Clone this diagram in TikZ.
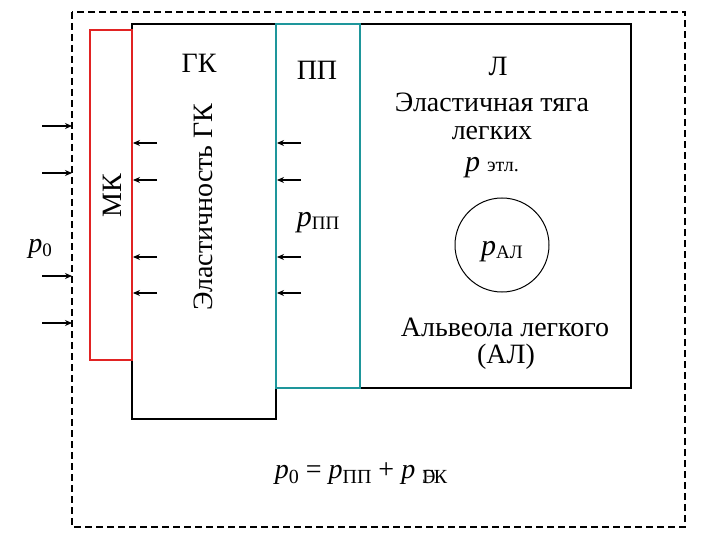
\documentclass[tikz,border=0pt]{standalone}
\usepackage{fontspec}
\setmainfont{Liberation Serif}
\usetikzlibrary{arrows.meta}
\definecolor{mkred}{RGB}{225,35,35}
\definecolor{ppteal}{RGB}{30,150,155}
\newcommand\myp{\textit{p}}
\begin{document}
\begin{tikzpicture}[x=1pt,y=-1pt,
  txt/.style={inner sep=0pt,font=\rmfamily\fontsize{28}{32}\selectfont},
  boxline/.style={draw=black,line width=2pt},
  arr/.style={line width=1.6pt,-{Stealth[length=7pt,width=6pt]}}]
\useasboundingbox (0,0) rectangle (720,540);
% outer dashed boundary
\draw[line width=2pt,dash pattern=on 7pt off 4pt] (72,12) rectangle (685,527);
% boxes
\coordinate (gknw) at (132,24);
\coordinate (gkse) at (276,419);
\draw[boxline] (gknw) rectangle (gkse);
\coordinate (lnw) at (360,24);
\coordinate (lse) at (631,388);
\draw[boxline] (lnw) rectangle (lse);
\coordinate (ppnw) at (276,24);
\coordinate (ppse) at (360,388);
\draw[draw=ppteal,line width=2pt] (ppnw) rectangle (ppse);
\coordinate (mknw) at (90,30);
\coordinate (mkse) at (132,360);
\draw[draw=mkred,line width=2.4pt] (mknw) rectangle (mkse);
% labels
\node[txt] (gkl) at (199,63) {ГК};
\node[txt,rotate=90] (gke) at (203,207) {Эластичность ГК};
\node[txt,rotate=90] (mkl) at (112,196) {МК};
\node[txt] (ppl) at (317,70) {ПП};
\node[txt] (ll) at (498,66) {Л};
\node[txt] (et1) at (492,102) {Эластичная тяга};
\node[txt] (et2) at (492,133) {легких};
\node[txt,anchor=base] (et3) at (492,172) {{\fontsize{30}{34}\selectfont\myp}\ {\fontsize{20}{24}\selectfont этл.}};
\node[txt,anchor=base] (ppp) at (318,226) {{\fontsize{30}{34}\selectfont\myp}\raisebox{-3pt}{\fontsize{19}{22}\selectfont ПП}};
\node[draw,circle,line width=1pt,minimum size=94pt,inner sep=0pt] (al) at (502,245) {};
\node[txt,anchor=base] (alp) at (502,255) {{\fontsize{30}{34}\selectfont\myp}\raisebox{-3pt}{\fontsize{19}{22}\selectfont АЛ}};
\node[txt] (alv1) at (505,327) {Альвеола легкого};
\node[txt] (alv2) at (506,357) {(АЛ)};
\node[txt,anchor=base] (p0) at (40,252) {\myp\raisebox{-4pt}{\fontsize{19}{22}\selectfont 0}};
\node[txt,anchor=base] (eq) at (361,478) {\myp\raisebox{-5pt}{\fontsize{20}{22}\selectfont 0} = \myp\raisebox{-5pt}{\fontsize{20}{22}\selectfont ПП} + \myp\ \raisebox{-5pt}{\fontsize{20}{22}\selectfont \rlap{Э}ГК}};
% outer arrows
\foreach \yy in {126,173,276,323}
  \draw[arr] (42,\yy) -- (72,\yy);
% arrows onto МК
\foreach \yy in {143,180,257,293}
  \draw[arr] (157,\yy) -- (133,\yy);
% arrows onto ПП
\foreach \yy in {143,180,257,293}
  \draw[arr] (301,\yy) -- (277,\yy);
\end{tikzpicture}
\end{document}
